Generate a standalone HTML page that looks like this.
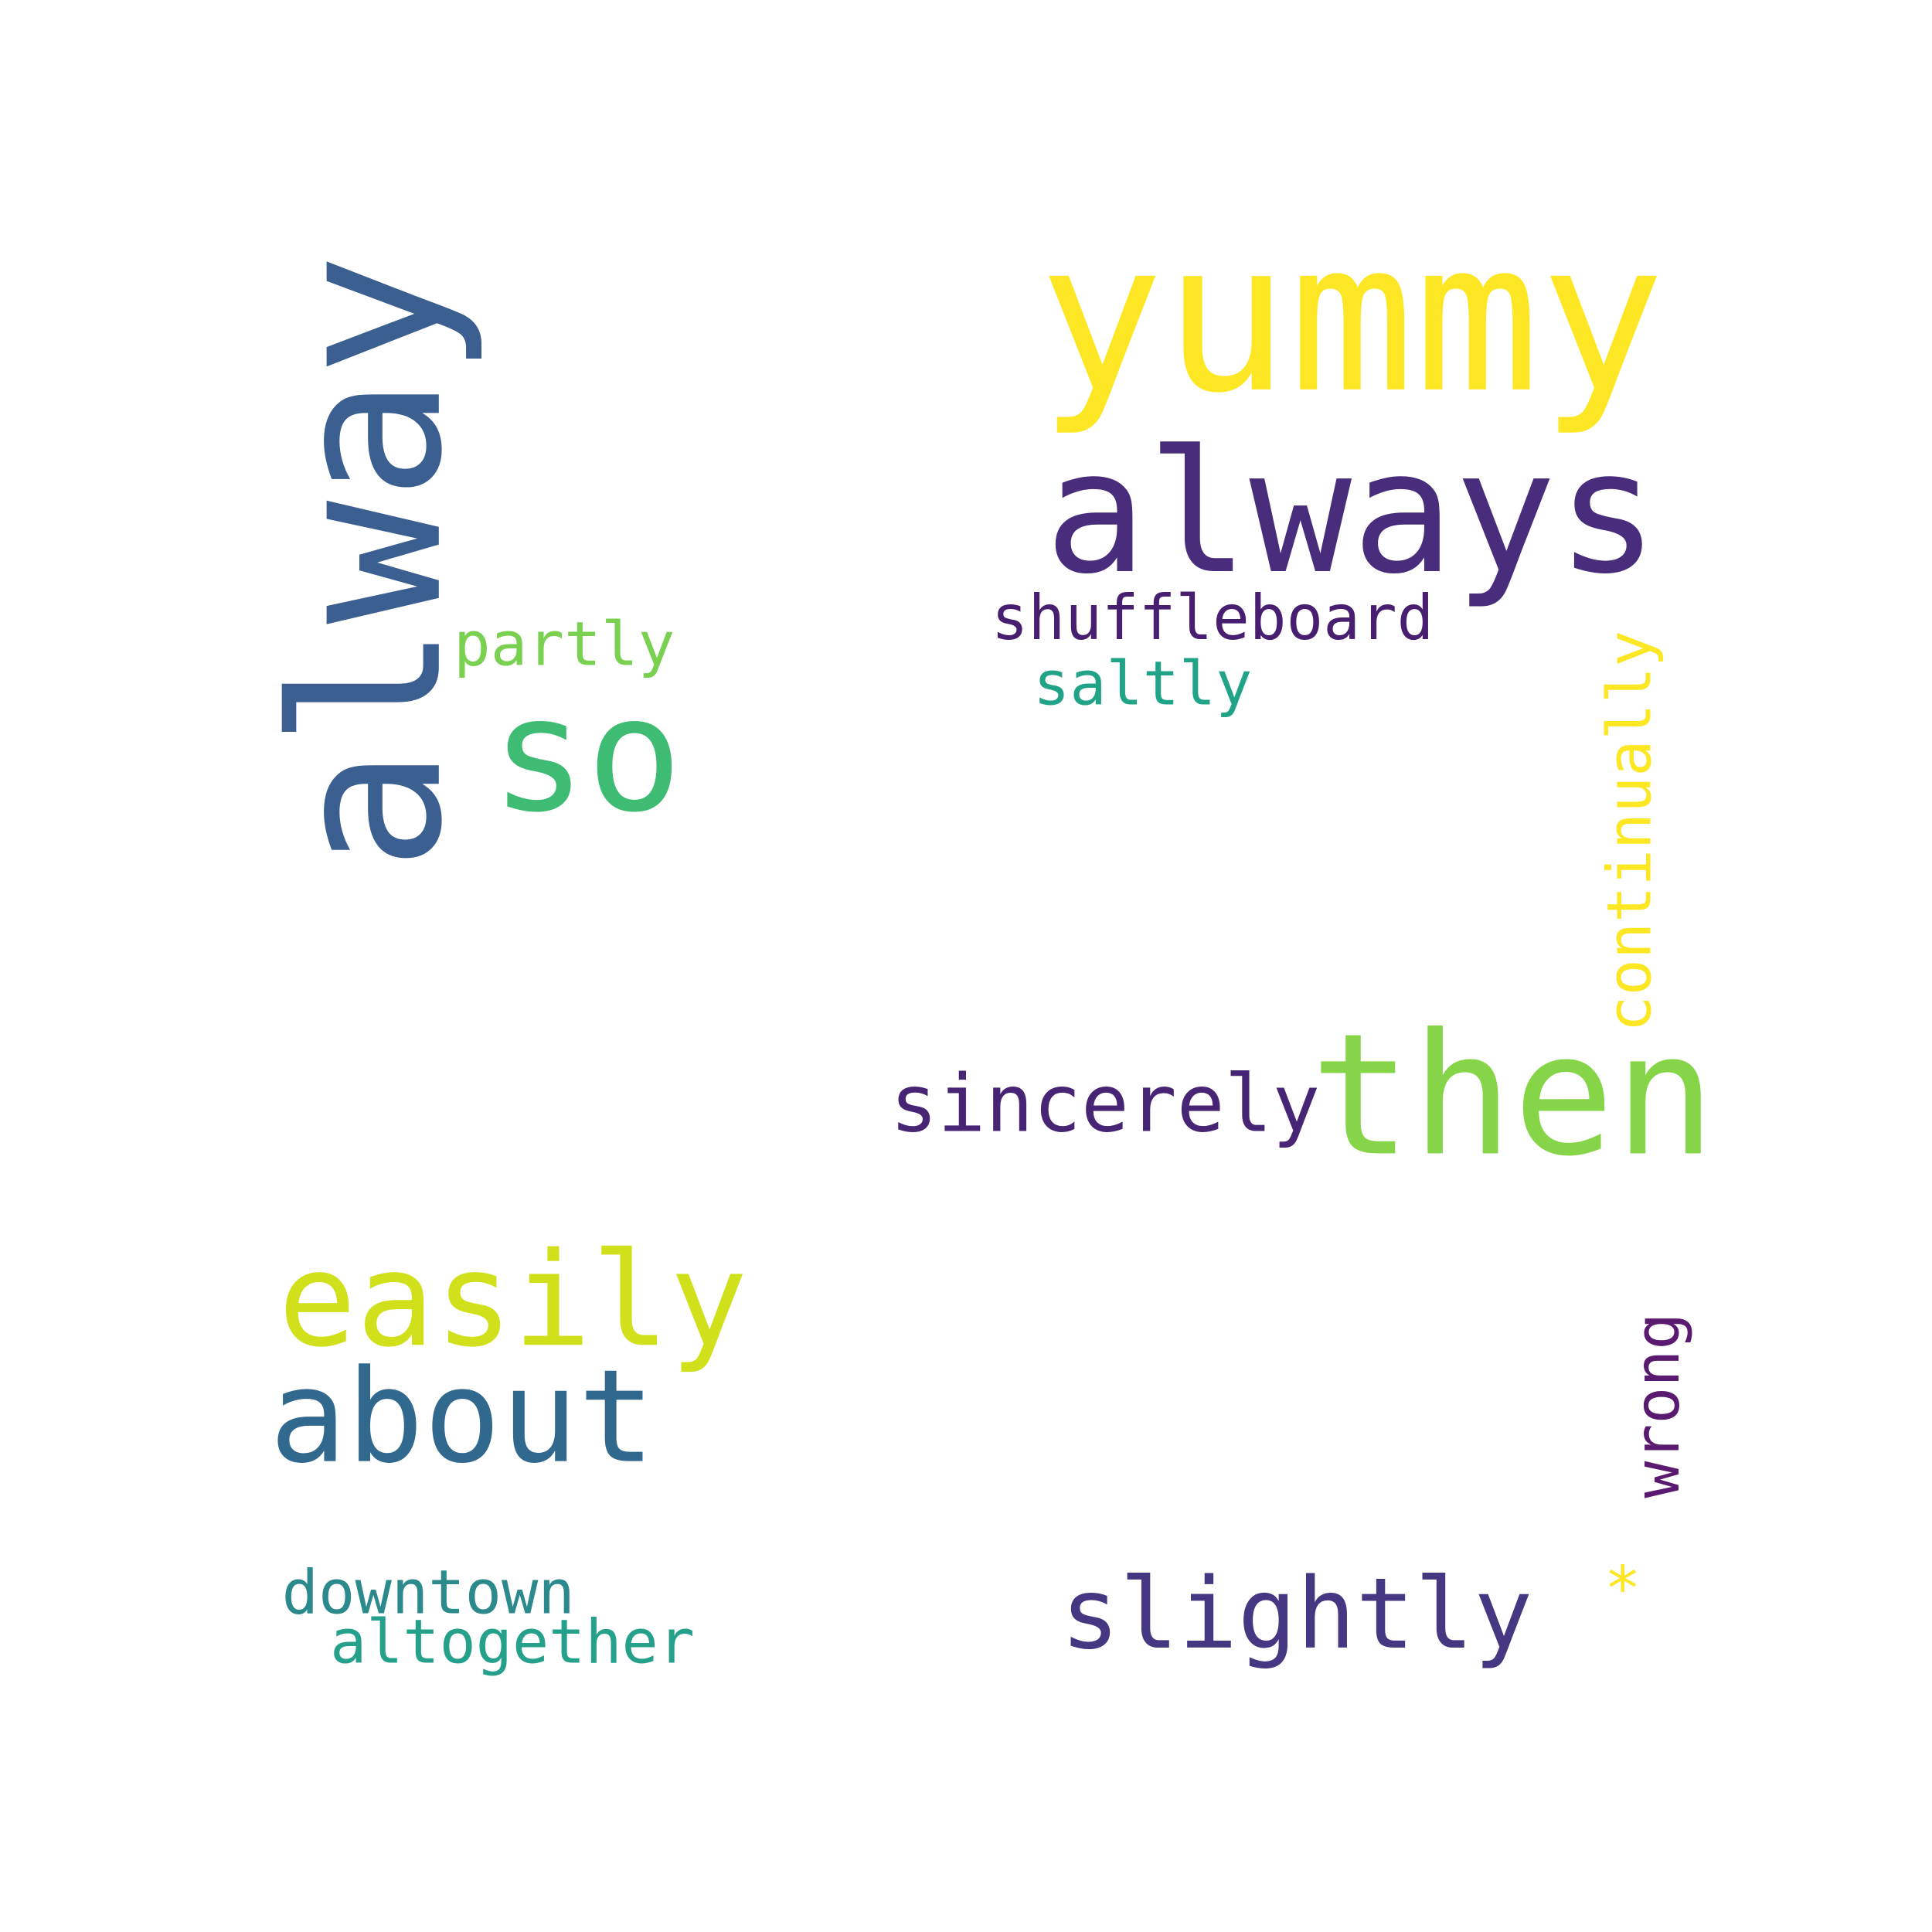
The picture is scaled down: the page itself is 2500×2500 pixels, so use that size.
<!DOCTYPE html>
<html><head><meta charset="utf-8"><style>
html,body{margin:0;padding:0;background:#fff;}
svg{display:block;}
text{font-family:"DejaVu Sans Mono","Liberation Mono",monospace;}
</style></head>
<body>
<svg width="2500" height="2500" viewBox="0 0 1563 1563" xmlns="http://www.w3.org/2000/svg">
<rect width="1563" height="1563" fill="#fff"/>
<text x="840" y="315" font-size="168" fill="#fde725" textLength="507" lengthAdjust="spacingAndGlyphs">yummy</text>
<text x="845" y="462" font-size="137" fill="#472d7b" textLength="497" lengthAdjust="spacingAndGlyphs">always</text>
<text x="802" y="517" font-size="50" fill="#481f70" textLength="358" lengthAdjust="spacingAndGlyphs">shuffleboard</text>
<text x="836" y="570" font-size="49" fill="#20a386" textLength="177" lengthAdjust="spacingAndGlyphs">saltly</text>
<text x="367" y="538" font-size="49" fill="#7ad151" textLength="179" lengthAdjust="spacingAndGlyphs">partly</text>
<text x="397" y="655" font-size="128" fill="#3fbc73" textLength="155" lengthAdjust="spacingAndGlyphs">so</text>
<text transform="translate(355,705) rotate(-90)" font-size="166" fill="#3b5f91" textLength="500" lengthAdjust="spacingAndGlyphs">alway</text>
<text transform="translate(1335,835) rotate(-90)" font-size="49" fill="#fde725" textLength="325" lengthAdjust="spacingAndGlyphs">continually</text>
<text x="1060" y="933" font-size="136" fill="#86d549" textLength="328" lengthAdjust="spacingAndGlyphs">then</text>
<text x="720" y="915" font-size="64" fill="#482475" textLength="348" lengthAdjust="spacingAndGlyphs">sincerely</text>
<text x="225" y="1088" font-size="105" fill="#d0e11c" textLength="380" lengthAdjust="spacingAndGlyphs">easily</text>
<text x="218" y="1182" font-size="104" fill="#31688e" textLength="312" lengthAdjust="spacingAndGlyphs">about</text>
<text x="228" y="1305" font-size="49" fill="#2c8a8c" textLength="237" lengthAdjust="spacingAndGlyphs">downtown</text>
<text x="267" y="1345" font-size="49" fill="#25a08a" textLength="295" lengthAdjust="spacingAndGlyphs">altogether</text>
<text x="858" y="1333" font-size="79" fill="#453781" textLength="382" lengthAdjust="spacingAndGlyphs">slightly</text>
<text x="1298" y="1302" font-size="49" fill="#fde725">*</text>
<text transform="translate(1358,1212) rotate(-90)" font-size="50" fill="#5a1a70" textLength="150" lengthAdjust="spacingAndGlyphs">wrong</text>
</svg>
</body></html>
